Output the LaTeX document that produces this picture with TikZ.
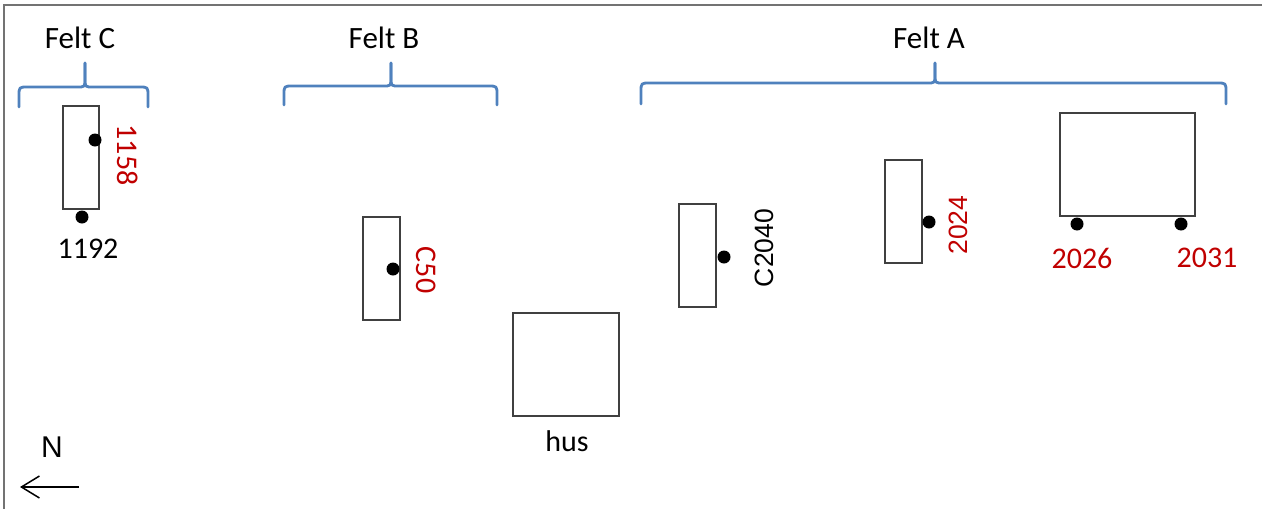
\documentclass[tikz,border=0pt]{standalone}
\usepackage{fontspec}
\setmainfont{Carlito}
\newfontfamily\arialf{Liberation Sans}
\usetikzlibrary{arrows.meta}
\definecolor{bracecol}{RGB}{79,129,189}
\definecolor{redlab}{RGB}{192,0,0}
\begin{document}
\begin{tikzpicture}[x=1pt,y=-1pt,
  brace/.style={draw=bracecol,line width=2.8pt,line cap=round,line join=round},
  plot/.style={draw=black!75,line width=1.3pt,minimum width=#1,inner sep=0pt,outer sep=0pt,fill=white},
  dotm/.style={circle,fill=black,inner sep=0pt,minimum size=13pt},
  feltlab/.style={font=\fontsize{31}{34}\selectfont},
  lab/.style={font=\fontsize{30}{34}\selectfont,inner sep=0pt},
  redl/.style={lab,text=redlab},
  arl/.style={font=\arialf\fontsize{26.5}{30}\selectfont,inner sep=0pt}
]
\useasboundingbox (0,0) rectangle (1262,509);
% frame
\draw[black!55,line width=1.3pt] (4,509) -- (4,5) -- (1262,5);

% braces: L, R, H, B, T, Top
\foreach \L/\R/\H/\B/\T/\Top in {19/148/87/107/85/63, 284/497/86/105/391/63, 641/1226/83/104/935/63}{
  \draw[brace] (\L,\B) -- (\L,\H+9) .. controls (\L,\H) .. (\L+9,\H) -- (\T-8,\H) .. controls (\T,\H) .. (\T,\H-8) -- (\T,\Top);
  \draw[brace] (\R,\B) -- (\R,\H+9) .. controls (\R,\H) .. (\R-9,\H) -- (\T+8,\H) .. controls (\T,\H) .. (\T,\H-8) -- (\T,\Top);
}
\node[feltlab] (feltC) at (80,38) {Felt C};
\node[feltlab] (feltB) at (384,38) {Felt B};
\node[feltlab] (feltA) at (929,38) {Felt A};

% Felt C
\node[plot=36pt,minimum height=103pt] (rc) at (81,157.5) {};
\node[dotm] (d1158) at (95,140) {};
\node[dotm] (d1192) at (82,217) {};
\node[redl,rotate=-90] (l1158) at (128,155) {1158};
\node[lab] (l1192) at (88,249) {1192};

% Felt B
\node[plot=37pt,minimum height=103pt] (rb) at (381.5,268.5) {};
\node[dotm] (dc50) at (393,269) {};
\node[redl,rotate=-90] (lc50) at (426,270) {C50};

% hus
\node[plot=106pt,minimum height=103pt] (hus) at (566,364.5) {};
\node[lab] (lhus) at (567,441) {hus};

% C2040
\node[plot=37pt,minimum height=103pt] (ra1) at (697.5,255.5) {};
\node[dotm] (dc2040) at (724,257) {};
\node[arl,rotate=90] (lc2040) at (764,248) {C2040};

% 2024
\node[plot=37pt,minimum height=103pt] (ra2) at (903.5,211.5) {};
\node[dotm] (d2024) at (929,222) {};
\node[arl,rotate=90,text=redlab] (l2024) at (958,225) {2024};

% big rect
\node[plot=135pt,minimum height=103pt] (ra3) at (1127.5,164.5) {};
\node[dotm] (d2026) at (1077,224) {};
\node[dotm] (d2031) at (1181,224) {};
\node[redl] (l2026) at (1082,258) {2026};
\node[redl] (l2031) at (1207,258) {2031};

% north arrow
\node[font=\arialf\fontsize{30}{32}\selectfont,inner sep=0pt] (north) at (52,447) {N};
\coordinate (na) at (79,487);
\coordinate (nb) at (20,487);
\draw[line width=1.5pt,-{Straight Barb[length=18pt,width=22pt,line width=1.5pt]}] (na) -- (nb);
\end{tikzpicture}
\end{document}
